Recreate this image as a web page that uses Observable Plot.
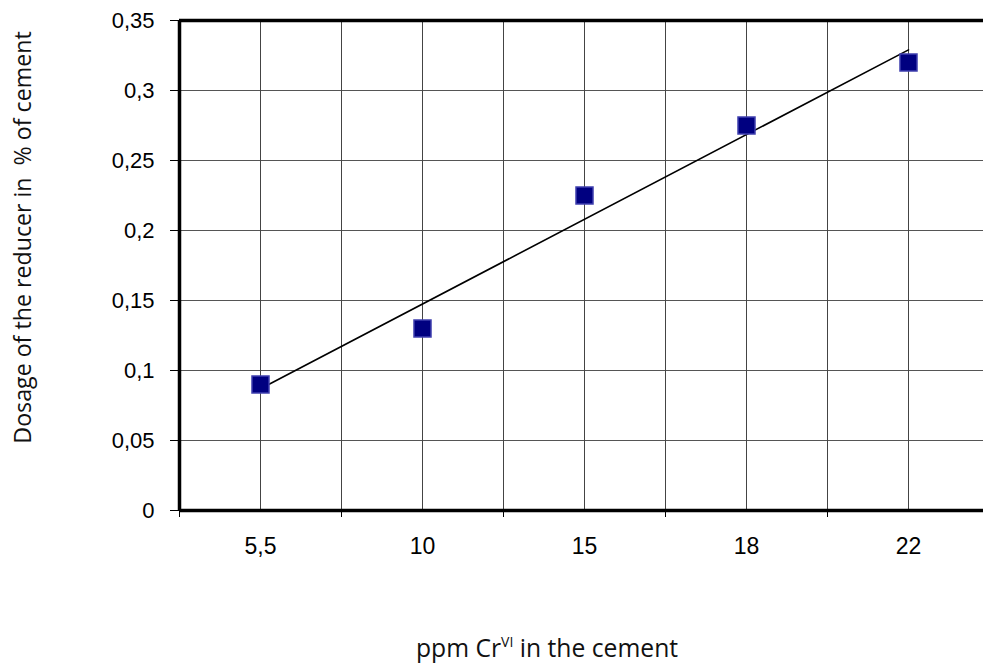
<!DOCTYPE html>
<html>
<head>
<meta charset="utf-8">
<script src="https://cdn.jsdelivr.net/npm/d3@7"></script>
<script src="https://cdn.jsdelivr.net/npm/@observablehq/plot@0.6"></script>
<style>
  html, body { margin: 0; padding: 0; background: #fff; }
  #chart svg { display: block; }
  #xtitle { position: relative; height: 73px; font-family: "Open Sans", sans-serif; font-size: 24.7px; color: #111; }
  #xtitle span { position: absolute; left: 547px; top: 57px; transform: translate(-50%, -50%); white-space: nowrap; }
  sup { font-size: 14px; vertical-align: 10px; line-height: 0; }
</style>
</head>
<body>
<div id="chart"></div>
<div id="xtitle"><span>ppm Cr<sup>VI</sup> in the cement</span></div>
<script>
const ppmLabels = ["5,5", "10", "15", "18", "22"];
const dosage = [0.09, 0.13, 0.225, 0.275, 0.32];
const yTicks = [0, 0.05, 0.1, 0.15, 0.2, 0.25, 0.3, 0.35];
const yTitle = "Dosage of the reducer in  % of cement";

const rows = ppmLabels.map((p, i) => ({pos: i + 1, label: p, value: dosage[i]}));
const centers = rows.map(r => r.pos);
const bounds = [0.5, ...centers.map(c => c + 0.5)];
const comma = d => String(d).replace(".", ",");
const tickFont = "'Liberation Sans', Arial, sans-serif";

const plot = Plot.plot({
  width: 983,
  height: 590,
  marginLeft: 179,
  marginRight: -6,
  marginTop: 20,
  marginBottom: 80,
  style: {fontFamily: tickFont, fontSize: "22px", color: "#000", background: "#fff"},
  x: {type: "linear", domain: [0.5, 5.5]},
  y: {domain: [0, 0.35]},
  marks: [
    Plot.ruleY(yTicks, {stroke: "#555", strokeWidth: 1}),
    Plot.ruleX([...centers, ...bounds], {stroke: "#444", strokeWidth: 1}),
    Plot.axisY({ticks: yTicks, tickFormat: comma, tickSize: 9, tickPadding: 16, label: null, stroke: "#000", fontSize: 22, fontFamily: tickFont}),
    Plot.axisX({ticks: bounds.slice(0, -1), tickSize: 7, tickFormat: () => "", label: null}),
    Plot.axisX({ticks: centers, tickSize: 0, tickPadding: 27, tickFormat: (d) => ppmLabels[d - 1], label: null, fontSize: 23, fontFamily: tickFont}),
    Plot.ruleY([0], {stroke: "#000", strokeWidth: 3.5}),
    Plot.ruleY([0.35], {stroke: "#000", strokeWidth: 3.5}),
    Plot.ruleX([0.5], {stroke: "#000", strokeWidth: 3.5}),
    Plot.linearRegressionY(rows, {x: "pos", y: "value", stroke: "#000", strokeWidth: 1.6, ci: 0}),
    Plot.dot(rows, {x: "pos", y: "value", symbol: "square", r: 9.6, fill: "#000080", stroke: "#3f3fae", strokeWidth: 1.5}),
    Plot.text([yTitle], {frameAnchor: "left", textAnchor: "middle", dx: -156, dy: -28, rotate: -90, fontFamily: "'Open Sans', sans-serif", fontSize: 23.2, fill: "#111"})
  ]
});
document.getElementById("chart").appendChild(plot);
</script>
</body>
</html>
